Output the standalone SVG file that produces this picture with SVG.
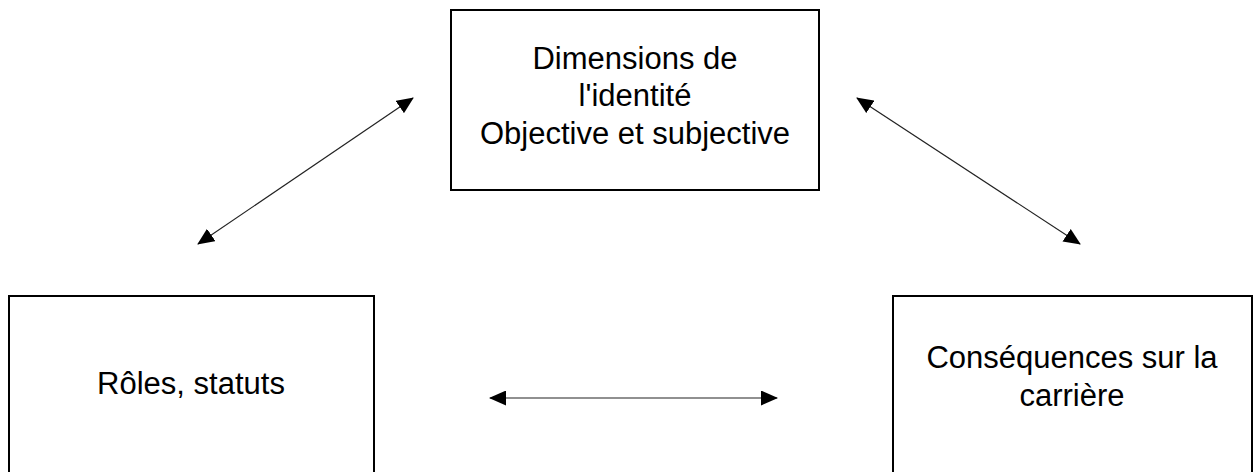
<svg xmlns="http://www.w3.org/2000/svg" width="1257" height="472" viewBox="0 0 1257 472">
<style>
.box{fill:#fff;stroke:#000;stroke-width:2}
.t{font-family:"Liberation Sans",Arial,sans-serif;font-size:31px;fill:#000;text-anchor:middle}
.c{stroke:#222;stroke-width:1.2;fill:none}
</style>
<defs>
<marker id="ah" viewBox="0 0 17 15" refX="16" refY="7.5" markerWidth="17" markerHeight="15" markerUnits="userSpaceOnUse" orient="auto-start-reverse">
<path d="M0,0 L17,7.5 L0,15 Z" fill="#000"/>
</marker>
</defs>
<rect width="1257" height="472" fill="#fff"/>
<g id="node-identite">
<rect class="box" x="451" y="10" width="368" height="180"/>
<text class="t" x="635" y="69">Dimensions de</text>
<text class="t" x="635" y="106">l'identité</text>
<text class="t" x="635" y="144">Objective et subjective</text>
</g>
<g id="node-roles">
<rect class="box" x="9" y="296" width="365" height="190"/>
<text class="t" x="191" y="394">Rôles, statuts</text>
</g>
<g id="node-consequences">
<rect class="box" x="893" y="296" width="359" height="190"/>
<text class="t" x="1072" y="368">Conséquences sur la</text>
<text class="t" x="1072" y="406">carrière</text>
</g>
<g id="connectors">
<line class="c" x1="198" y1="244" x2="413" y2="98" marker-start="url(#ah)" marker-end="url(#ah)"/>
<line class="c" x1="857" y1="98" x2="1080" y2="244" marker-start="url(#ah)" marker-end="url(#ah)"/>
<line class="c" x1="490" y1="398" x2="777" y2="398" marker-start="url(#ah)" marker-end="url(#ah)"/>
</g>
</svg>
